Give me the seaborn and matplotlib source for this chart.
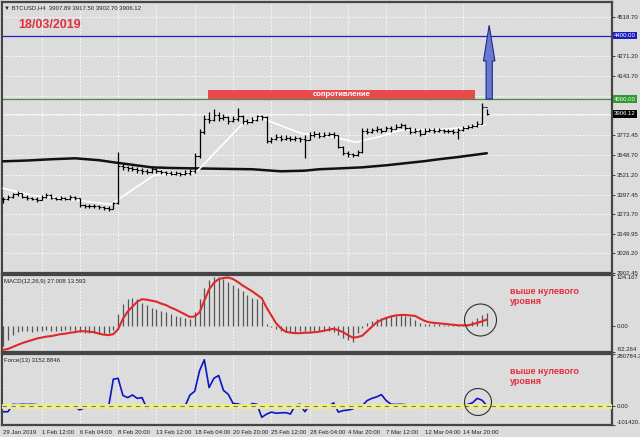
import numpy as np
import pandas as pd
import matplotlib
matplotlib.use('Agg')
import matplotlib.pyplot as plt
import seaborn as sns
from matplotlib.patches import Rectangle, FancyArrow, Ellipse

# ---- data (each point = 2 H4 bars) ----
close = [3368, 3380, 3398, 3405, 3385, 3378, 3372, 3365, 3380, 3395,
         3376, 3372, 3378, 3370, 3382, 3376, 3330, 3325, 3322, 3326,
         3320, 3315, 3308, 3342, 3578, 3572, 3565, 3560, 3552, 3546,
         3540, 3560, 3548, 3540, 3535, 3530, 3532, 3528, 3535, 3545,
         3640, 3790, 3875, 3870, 3900, 3880, 3885, 3860, 3875, 3890,
         3860, 3855, 3870, 3890, 3885, 3735, 3745, 3760, 3750, 3755,
         3748, 3752, 3745, 3740, 3770, 3780, 3768, 3775, 3780, 3770,
         3700, 3660, 3650, 3645, 3665, 3800, 3795, 3805, 3810, 3800,
         3815, 3810, 3825, 3835, 3820, 3795, 3800, 3780, 3800, 3805,
         3800, 3802, 3798, 3800, 3795, 3805, 3820, 3825, 3830, 3845,
         3950, 3906]
high = [3385, 3392, 3410, 3418, 3408, 3392, 3385, 3380, 3392, 3410,
        3398, 3385, 3390, 3385, 3396, 3390, 3378, 3338, 3335, 3338,
        3332, 3328, 3322, 3350, 3664, 3590, 3580, 3578, 3570, 3565,
        3558, 3572, 3565, 3555, 3548, 3545, 3544, 3542, 3550, 3560,
        3660, 3810, 3900, 3915, 3940, 3915, 3905, 3895, 3892, 3945,
        3898, 3872, 3885, 3902, 3898, 3890, 3760, 3778, 3770, 3772,
        3765, 3768, 3762, 3775, 3790, 3800, 3792, 3790, 3795, 3790,
        3775, 3705, 3670, 3662, 3680, 3815, 3815, 3820, 3828, 3820,
        3830, 3828, 3840, 3850, 3842, 3825, 3815, 3808, 3815, 3818,
        3815, 3815, 3812, 3812, 3810, 3815, 3832, 3838, 3842, 3860,
        3978, 3935]
low = [3345, 3360, 3375, 3390, 3378, 3365, 3360, 3352, 3360, 3376,
       3368, 3362, 3365, 3360, 3366, 3362, 3318, 3312, 3310, 3314,
       3308, 3302, 3296, 3305, 3340, 3555, 3548, 3545, 3535, 3530,
       3528, 3535, 3532, 3528, 3522, 3518, 3520, 3515, 3520, 3520,
       3535, 3630, 3780, 3850, 3860, 3862, 3868, 3845, 3855, 3862,
       3845, 3840, 3850, 3862, 3870, 3720, 3725, 3740, 3735, 3740,
       3732, 3738, 3730, 3626, 3740, 3762, 3752, 3760, 3765, 3752,
       3690, 3645, 3635, 3632, 3640, 3660, 3780, 3788, 3795, 3785,
       3798, 3795, 3808, 3815, 3805, 3780, 3785, 3765, 3778, 3790,
       3788, 3790, 3785, 3788, 3782, 3750, 3800, 3812, 3815, 3825,
       3840, 3900]

ma_idx = [0, 5, 10, 15, 20, 23, 27, 31, 35, 39, 45, 52, 58, 63, 66, 70, 75, 80, 84, 88, 91, 95, 101]
ma_val = [3607, 3612, 3620, 3626, 3614, 3601, 3585, 3569, 3565, 3563, 3560, 3557, 3544, 3548,
          3557, 3562, 3569, 3582, 3595, 3608, 3620, 3634, 3658]

trail_idx = [0, 5.8, 15.2, 22.5, 31.5, 39.2, 40.7, 49.7, 53.4, 62.2, 69.1, 73.7, 78.9, 83, 91.4, 97.7, 100.8]
trail_val = [3437, 3393, 3361, 3336, 3519, 3532, 3550, 3835, 3885, 3784, 3759, 3727, 3765, 3803,
             3809, 3822, 3841]

macd_main = [-40, -28, -18, -12, -10, -10, -11, -10, -9, -8,
             -9, -10, -9, -8, -8, -9, -12, -13, -14, -14,
             -15, -15, -14, -8, 25, 45, 55, 58, 55, 48,
             43, 38, 35, 31, 28, 24, 21, 18, 16, 14,
             30, 55, 78, 93, 101, 101, 96, 90, 84, 78,
             72, 64, 58, 55, 50, 5, -2, -5, -9, -11,
             -12, -11, -10, -9, -9, -9, -9, -10, -10, -12,
             -18, -24, -28, -31, -14, -3, 6, 11, 15, 17,
             19, 21, 21, 22, 21, 19, 13, 6, 5, 4,
             4, 4, 3, 3, 3, 3, 2, 4, 10, 17,
             23, 27]
macd_signal = [-48, -46, -42, -38, -34, -31, -28, -25, -23, -21,
               -20, -18, -16, -15, -13, -12, -10, -10, -11, -12,
               -15, -17, -18, -16, -6, 15, 30, 40, 50, 55,
               54, 52, 50, 46, 43, 38, 34, 29, 24, 19,
               20, 28, 52, 75, 88, 96, 98, 99, 96, 90,
               83, 77, 71, 64, 57, 38, 22, 6, -4, -11,
               -13, -14, -14, -13, -13, -12, -11, -9, -7, -5,
               -8, -12, -18, -23, -22, -19, -10, -1, 8, 13,
               17, 20, 22, 23, 23, 22, 21, 16, 11, 8,
               7, 6, 5, 4, 3, 2, 2, 2, 4, 7,
               10, 13.6]
force_k = [-30, -30, 10, 8, 10, 9, 10, 8, 2, 0,
           -2, 3, 1, -2, 2, -5, -20, -9, -7, -8,
           -6, -7, -5, 145, 150, 58, 46, 60, 42, 46,
           -12, 2, -2, 1, 0, -3, 2, 0, 1, 60,
           80, 190, 250, 100, 150, 165, 85, 64, 15, 12,
           5, -6, 14, 10, -60, -43, -32, -38, -36, -35,
           -42, 5, 10, -30, 5, 0, -2, 2, 0, 18,
           -32, -24, -21, -15, 8, 2, 30, 42, 50, 62,
           30, 10, 9, 10, 8, 1, -1, -9, -4, 0,
           1, -1, 0, 2, -1, 0, 3, 9, 18, 42,
           32, 3.15]

tick_labels = ['29 Jan 2019', '1 Feb 12:00', '6 Feb 04:00', '8 Feb 20:00', '13 Feb 12:00',
               '18 Feb 04:00', '20 Feb 20:00', '25 Feb 12:00', '28 Feb 04:00', '4 Mar 20:00',
               '7 Mar 12:00', '12 Mar 04:00', '14 Mar 20:00']
price_ticks = [4518.70, 4271.20, 4143.70, 3772.45, 3648.70, 3521.20, 3397.45,
               3273.70, 3149.95, 3026.20, 2902.45]
price_grid = price_ticks + [4395.45, 4019.95, 3896.20]

target = 4400.00
resist = 4000.00
last_price = 3906.12

df = pd.DataFrame({'bar': np.arange(len(close)) * 2, 'close': close, 'high': high, 'low': low,
                   'macd': macd_main, 'signal': macd_signal, 'force': np.array(force_k) * 1000})

# ---- style ----
bg = '#dcdcdc'
sns.set_style('white', rc={'axes.facecolor': bg, 'figure.facecolor': bg})
plt.rcParams['font.family'] = ['Liberation Sans', 'DejaVu Sans']
red_txt = '#e0303c'
small = 4.3

fig = plt.figure(figsize=(6.4, 4.37), dpi=100)
W, H = 640, 437
def box(top, bottom):
    return [2 / W, (H - bottom) / H, 610 / W, (bottom - top) / H]

ax0 = fig.add_axes(box(2, 273))
ax1 = fig.add_axes(box(275, 352))
ax2 = fig.add_axes(box(354, 425))

xmax = 254.3
xticks = np.arange(len(tick_labels)) * 16
for ax in (ax0, ax1, ax2):
    ax.set_xlim(-0.5, xmax)
    for s in ax.spines.values():
        s.set_color('#454545')
        s.set_linewidth(1.6)
    for xt in xticks:
        ax.axvline(xt, color='white', lw=0.6, ls=(0, (2, 2)), zorder=0)
    ax.yaxis.tick_right()
    ax.tick_params(axis='y', length=2.5, width=0.6, labelsize=small, pad=1, colors='#222222')
    ax.set_xticks([])

# ---- main price panel ----
ax0.set_ylim(2902.45, 4612)
for g in price_grid:
    ax0.axhline(g, color='white', lw=0.6, ls=(0, (2, 2)), zorder=0)
ax0.set_yticks(price_ticks)
ax0.set_yticklabels(['%.2f' % v for v in price_ticks])

ax0.axhline(last_price, color='#f4f4f4', lw=0.8, zorder=1)
ax0.axhline(target, color='#2020c8', lw=0.9, zorder=2)
ax0.axhline(resist, color='#4a8a4a', lw=0.9, zorder=2)

sns.lineplot(x=np.array(ma_idx) * 2, y=ma_val, ax=ax0, color='#111111', lw=1.8,
             estimator=None, sort=False, zorder=3)
sns.lineplot(x=np.array(trail_idx) * 2, y=trail_val, ax=ax0, color='white', lw=1.2,
             estimator=None, sort=False, zorder=3)

opens = [close[0]] + close[:-1]
ax0.vlines(df['bar'], df['low'], df['high'], color='black', lw=0.9, zorder=4)
ax0.hlines(opens, df['bar'] - 0.9, df['bar'], color='black', lw=0.8, zorder=4)
ax0.hlines(df['close'], df['bar'], df['bar'] + 0.9, color='black', lw=0.8, zorder=4)

ax0.add_patch(Rectangle((85.5, resist), 111.6, 55, facecolor='#e84a4c', edgecolor='none', zorder=5))
ax0.text(85.5 + 111.6 / 2, resist + 27, 'сопротивление', color='white', fontsize=5.5,
         fontweight='bold', ha='center', va='center', zorder=6)
ax0.add_patch(FancyArrow(203, resist, 0, 465, width=2.6, head_width=4.8, head_length=225,
                         length_includes_head=True, facecolor='#6a78d0', edgecolor='#1c2a8a',
                         lw=0.8, zorder=6))

ytr = ax0.get_yaxis_transform()
for val, fc in ((target, '#1c1cc0'), (resist, '#2f9a2f'), (last_price, '#000000')):
    ax0.text(1.003, val, '%.2f' % val, transform=ytr, fontsize=small, color='white', va='center',
             ha='left', bbox=dict(boxstyle='square,pad=0.2', facecolor=fc, edgecolor='none'))

ax0.text(0.004, 0.988, '▼ BTCUSD,H4  3907.89 3917.50 3902.70 3906.12', transform=ax0.transAxes,
         fontsize=small, va='top', ha='left', color='#222222')
ax0.text(0.027, 0.915, '18/03/2019', transform=ax0.transAxes, fontsize=9, fontweight='bold',
         color=red_txt, va='center', ha='left')

# ---- MACD panel ----
ax1.set_ylim(-52.264, 104.167)
ax1.vlines(df['bar'], 0, df['macd'], color='#555555', lw=0.9, zorder=2)
sns.lineplot(data=df, x='bar', y='signal', ax=ax1, color='#e02828', lw=1.5,
             estimator=None, sort=False, zorder=3)
ax1.set_ylabel('')
ax1.set_yticks([104.167, 0, -52.264])
ax1.set_yticklabels(['104.167', '0.00', '-52.264'])
yl = ax1.get_yticklabels()
yl[0].set_va('top')
yl[2].set_va('bottom')
ax1.text(0.004, 0.95, 'MACD(12,26,9) 27.008 13.593', transform=ax1.transAxes, fontsize=small,
         va='top', color='#222222')
ax1.text(211.7, 0.72, 'выше нулевого\nуровня', transform=ax1.get_xaxis_transform(), fontsize=6.5,
         fontweight='bold', color=red_txt, va='center', ha='left', linespacing=1.15)

# ---- Force panel ----
ax2.set_ylim(-101420.3, 280784.3)
sns.lineplot(data=df, x='bar', y='force', ax=ax2, color='#0a14c8', lw=1.2,
             estimator=None, sort=False, zorder=2)
ax2.axhline(0, color='#eeee8a', lw=3.5, zorder=3)
ax2.axhline(0, color='#777777', lw=0.8, ls=(0, (4, 4)), zorder=4)
ax2.set_ylabel('')
ax2.set_yticks([280784.3, 0, -101420.3])
ax2.set_yticklabels(['280784.3', '0.00', '-101420.3'])
yl = ax2.get_yticklabels()
yl[0].set_va('top')
yl[2].set_va('bottom')
ax2.text(0.004, 0.95, 'Force(13) 3152.8846', transform=ax2.transAxes, fontsize=small,
         va='top', color='#222222')
ax2.text(211.7, 0.68, 'выше нулевого\nуровня', transform=ax2.get_xaxis_transform(), fontsize=6.5,
         fontweight='bold', color=red_txt, va='center', ha='left', linespacing=1.15)

ax2.set_xticks(xticks)
ax2.set_xticklabels(tick_labels, ha='left')
ax2.tick_params(axis='x', length=2.5, width=0.6, labelsize=small, pad=1, colors='#222222')
ax2.set_xlabel('')
for ax in (ax0, ax1):
    ax.set_xlabel('')
ax0.set_ylabel('')

# circles around the latest signal
fig.patches.append(Ellipse((480.5 / W, 1 - 320 / H), 32 / W, 32 / H, transform=fig.transFigure,
                           facecolor='none', edgecolor='#303030', lw=0.8, zorder=10))
fig.patches.append(Ellipse((478 / W, 1 - 402 / H), 27 / W, 27 / H, transform=fig.transFigure,
                           facecolor='none', edgecolor='#303030', lw=0.8, zorder=10))

fig.savefig('out.png', dpi=100)
